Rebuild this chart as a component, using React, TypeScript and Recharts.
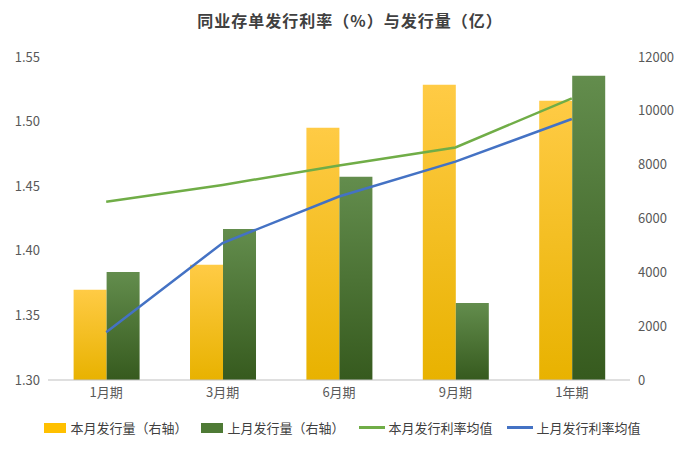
import { Bar, ComposedChart, Legend, Line, XAxis, YAxis } from "recharts";

const categories = ["1月期", "3月期", "6月期", "9月期", "1年期"];
const thisMonthVolume = [3350, 4280, 9370, 10970, 10370];
const lastMonthVolume = [4010, 5610, 7550, 2860, 11300];
const thisMonthRate = [1.438, 1.451, 1.466, 1.48, 1.518];
const lastMonthRate = [1.337, 1.406, 1.442, 1.469, 1.502];
const leftTicks = [1.3, 1.35, 1.4, 1.45, 1.5, 1.55];
const rightTicks = [0, 2000, 4000, 6000, 8000, 10000, 12000];

const data = categories.map((name, i) => ({
  name,
  thisVol: thisMonthVolume[i],
  lastVol: lastMonthVolume[i],
  thisRate: thisMonthRate[i],
  lastRate: lastMonthRate[i],
}));

const legendItems = [
  { label: "本月发行量（右轴）", color: "#FFC000", kind: "rect" },
  { label: "上月发行量（右轴）", color: "#4E7A35", kind: "rect" },
  { label: "本月发行利率均值", color: "#70AD47", kind: "line" },
  { label: "上月发行利率均值", color: "#4472C4", kind: "line" },
];

const font = "'Noto Sans CJK SC', sans-serif";
const tick = { fill: "#595959", fontSize: 13, fontFamily: font };

function LegendContent() {
  return (
    <div style={{ display: "flex", justifyContent: "center", gap: 14, fontSize: 13, color: "#404040", paddingTop: 6 }}>
      {legendItems.map((it) => (
        <span key={it.label} style={{ display: "flex", alignItems: "center", gap: 4 }}>
          {it.kind === "rect" ? (
            <span style={{ width: 22, height: 10, background: it.color, display: "inline-block" }} />
          ) : (
            <span style={{ width: 26, height: 3, background: it.color, display: "inline-block" }} />
          )}
          {it.label}
        </span>
      ))}
    </div>
  );
}

export default function App() {
  return (
    <div style={{ position: "absolute", left: 0, top: 0, width: 700, height: 453, background: "#fff", fontFamily: font }}>
      <div style={{ position: "absolute", top: 8, width: 700, textAlign: "center", fontSize: 16, fontWeight: "bold", color: "#404040", letterSpacing: 1 }}>
        同业存单发行利率（%）与发行量（亿）
      </div>
      <ComposedChart width={700} height={453} data={data} margin={{ top: 57, right: 18, bottom: 8, left: 3 }} barGap={0} barCategoryGap="22%">
        <defs>
          <linearGradient id="gy" x1="0" y1="0" x2="0" y2="1">
            <stop offset="0" stopColor="#FFCB45" />
            <stop offset="1" stopColor="#E8B200" />
          </linearGradient>
          <linearGradient id="gg" x1="0" y1="0" x2="0" y2="1">
            <stop offset="0" stopColor="#638D4D" />
            <stop offset="1" stopColor="#365A1E" />
          </linearGradient>
        </defs>
        <XAxis dataKey="name" height={32} tick={tick} tickLine={false} axisLine={{ stroke: "#bfbfbf" }} />
        <YAxis yAxisId="l" domain={[1.3, 1.55]} ticks={leftTicks} tickFormatter={(v) => v.toFixed(2)} width={45} tick={tick} axisLine={false} tickLine={false} />
        <YAxis yAxisId="r" orientation="right" domain={[0, 12000]} ticks={rightTicks} width={52} tick={tick} axisLine={false} tickLine={false} />
        <Legend height={33} verticalAlign="bottom" content={LegendContent} />
        <Bar yAxisId="r" dataKey="thisVol" name="本月发行量（右轴）" fill="url(#gy)" isAnimationActive={false} />
        <Bar yAxisId="r" dataKey="lastVol" name="上月发行量（右轴）" fill="url(#gg)" isAnimationActive={false} />
        <Line yAxisId="l" dataKey="thisRate" name="本月发行利率均值" stroke="#70AD47" strokeWidth={2.5} dot={false} isAnimationActive={false} />
        <Line yAxisId="l" dataKey="lastRate" name="上月发行利率均值" stroke="#4472C4" strokeWidth={2.5} dot={false} isAnimationActive={false} />
      </ComposedChart>
    </div>
  );
}
